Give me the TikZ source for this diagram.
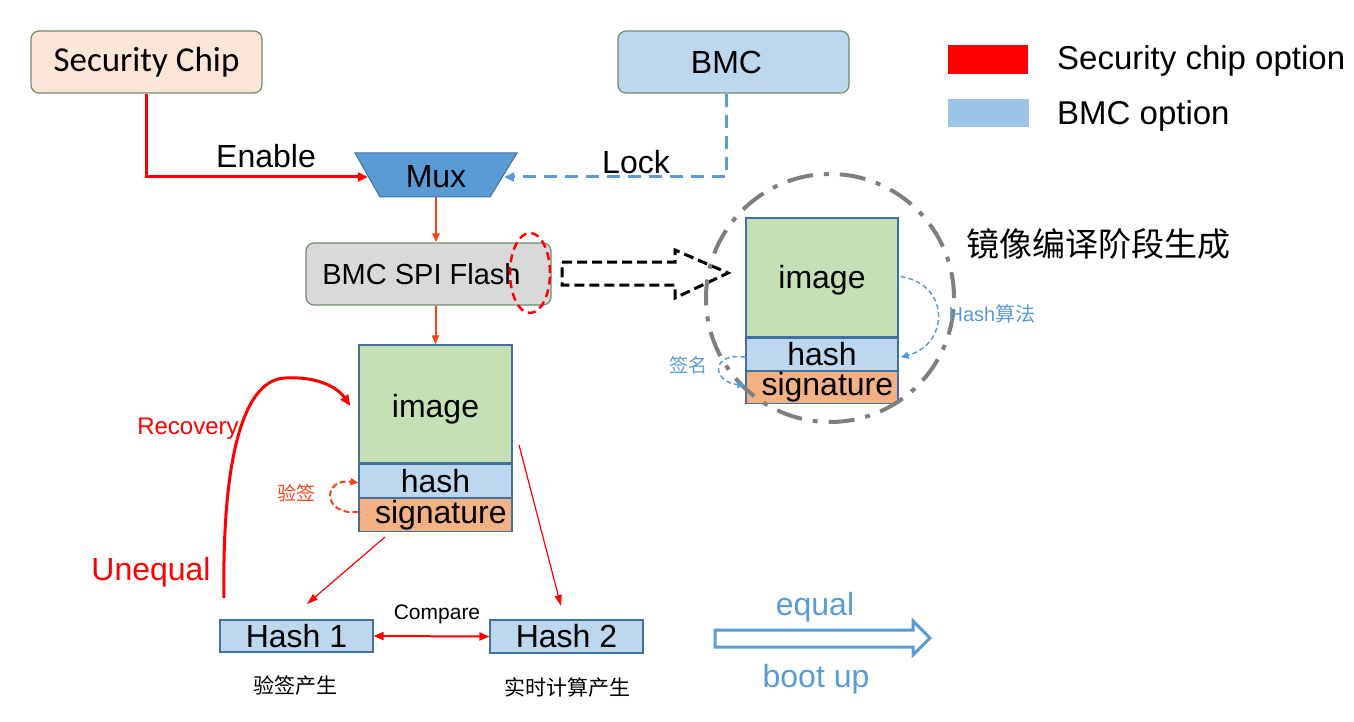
\documentclass[tikz,border=0pt]{standalone}
\usepackage{fontspec}
\setmainfont{Liberation Sans}
\newfontfamily\calibri{Carlito}
\newfontfamily\cjk{Noto Sans CJK SC}
\usetikzlibrary{arrows.meta,shapes.geometric}
\definecolor{chipfill}{HTML}{FBE5D6}
\definecolor{boxline}{HTML}{6F8A6F}
\definecolor{bmcfill}{HTML}{BDD7EE}
\definecolor{spifill}{HTML}{D9D9D9}
\definecolor{muxfill}{HTML}{5B9BD5}
\definecolor{muxline}{HTML}{41719C}
\definecolor{stkline}{HTML}{41719C}
\definecolor{imgfill}{HTML}{C5E0B4}
\definecolor{sigfill}{HTML}{F4B183}
\definecolor{bluel}{HTML}{5B9BD5}
\definecolor{legblue}{HTML}{9DC3E6}
\definecolor{orred}{HTML}{F5451B}
\definecolor{circgray}{HTML}{7F7F7F}
\tikzset{
  big/.style={font=\fontsize{32}{36}\selectfont},
  box/.style={draw=boxline, line width=1.2pt, rounded corners=8pt, inner sep=0pt, big},
  stk/.style={draw=stkline, line width=1.2pt, inner sep=0pt, big, minimum width=153},
  redline/.style={draw=red, line width=3pt, -{Triangle[length=10pt,width=9pt]}},
  oarrow/.style={draw=orred, line width=2pt, -{Triangle[length=9pt,width=7pt]}},
  thinred/.style={draw=red, line width=1.2pt, -{Triangle[length=11pt,width=7pt]}},
  bdash/.style={draw=bluel, line width=1.5pt, dash pattern=on 5pt off 3pt, -{Triangle[length=8pt,width=7pt]}},
  odash/.style={draw=orred, line width=2pt, dash pattern=on 6pt off 3pt, -{Triangle[length=8pt,width=7pt]}},
  smalltxt/.style={font=\fontsize{20}{24}\selectfont, inner sep=0pt},
}
\begin{document}
\begin{tikzpicture}[x=1pt,y=-1pt]
\useasboundingbox (0,0) rectangle (1354,722);

% top boxes
\node[box, fill=chipfill, minimum width=231, minimum height=62, font=\calibri\fontsize{35}{38}\selectfont] (chip) at (146.5,62) {Security Chip};
\node[box, fill=bmcfill, minimum width=231, minimum height=62] (bmc) at (733.5,62) {\hspace*{-14pt}BMC};

% legend
\node[fill=red, minimum width=80, minimum height=29, inner sep=0pt] (lgr) at (988,59.5) {};
\node[font=\fontsize{33}{36}\selectfont, anchor=west, inner sep=0pt] (lgrt) at (1057,61) {Security chip option};
\node[fill=legblue, minimum width=81, minimum height=28, inner sep=0pt] (lgb) at (988.5,113) {};
\node[font=\fontsize{33}{36}\selectfont, anchor=west, inner sep=0pt] (lgbt) at (1057,116) {BMC option};

% mux
\filldraw[fill=muxfill, draw=muxline, line width=1pt] (355,153) -- (517,153) -- (490,197) -- (380,197) -- cycle;
\node[big, minimum width=136, minimum height=44, inner sep=0pt] (mux) at (436,177) {Mux};

\draw[redline] (chip.south) |- (mux.west);
\node[big, inner sep=0pt] (enable) at (266,156) {Enable};
\draw[draw=bluel, line width=3pt, dash pattern=on 13pt off 8pt, -{Triangle[length=10pt,width=9pt]}] ([xshift=-7.5pt]bmc.south) |- (mux.east);
\node[big, inner sep=0pt] (lock) at (636,162) {Lock};

% SPI flash
\node[box, fill=spifill, minimum width=245, minimum height=62, font=\fontsize{29}{32}\selectfont] (spi) at (428.5,274) {\hspace*{-14pt}BMC SPI Flash};
\draw[oarrow] (mux.south |- 0,197) -- (mux.south |- spi.north);
\node[draw=red, ellipse, dash pattern=on 8pt off 5pt, line width=2.5pt, minimum width=40, minimum height=80, inner sep=0pt] (hl) at (530,273) {};

% hollow dashed arrow
\draw[line width=3pt, dash pattern=on 10pt off 5pt] (562,262) -- (675,262) -- (675,250) -- (728,273) -- (675,298) -- (675,285) -- (562,285) -- cycle;

% left stack
\node[stk, fill=imgfill, minimum height=118, text height=26pt, text depth=0pt] (limg) at (435.5,404) {image};
\node[stk, fill=bmcfill, minimum height=33, anchor=north] (lhash) at (limg.south) {hash};
\node[stk, fill=sigfill, minimum height=33, anchor=north] (lsig) at (lhash.south) {\,\,signature};
\draw[oarrow] (limg.north |- spi.south) -- (limg.north);

% right stack
\node[stk, fill=imgfill, minimum width=152, minimum height=119, text height=22pt, text depth=0pt] (rimg) at (822,277.5) {image};
\node[stk, fill=bmcfill, minimum width=152, minimum height=32, anchor=north] (rhash) at (rimg.south) {hash};
\node[stk, fill=sigfill, minimum width=152, minimum height=32, anchor=north] (rsig) at (rhash.south) {\,\,signature};

% dash-dot circle
\draw[draw=circgray, line width=4pt, dash pattern=on 26pt off 11pt on 5pt off 11pt] (830,298) circle[radius=124pt];
\node[font=\cjk\fontsize{33}{36}\selectfont, anchor=west, inner sep=0pt] (gen) at (966,244) {镜像编译阶段生成};

% blue curves
\draw[bdash] ([xshift=2pt,yshift=1pt]rimg.east) .. controls (952,285) and (948,345) .. ([xshift=2pt,yshift=-3pt]rhash.east);
\node[smalltxt, text=bluel] (halg) at (992,314) {Hash{\cjk 算法}};
\draw[bdash] ([yshift=-3pt]rhash.west) .. controls (710,352) and (712,382) .. ([yshift=2pt]rsig.west);
\node[smalltxt, text=bluel, font=\cjk\fontsize{19}{22}\selectfont] (qm) at (688,365) {签名};

% left orange curve
\draw[odash] ([yshift=3pt]lsig.west) .. controls (322,516) and (322,478) .. ([yshift=-2pt]lhash.west);
\node[smalltxt, text=orred, font=\cjk\fontsize{19}{22}\selectfont] (yq) at (296,493) {验签};

% hash boxes
\node[stk, fill=bmcfill, minimum height=32] (h1) at (296.5,636) {Hash 1};
\node[stk, fill=bmcfill, minimum height=33] (h2) at (566.5,636.5) {Hash 2};
\draw[draw=red, line width=2pt, {Triangle[length=10pt,width=8pt]}-{Triangle[length=10pt,width=8pt]}] (h1.east) -- (h2.west);
\node[font=\fontsize{21}{24}\selectfont, inner sep=0pt] (cmp) at (437,614) {Compare};
\node[font=\cjk\fontsize{21}{24}\selectfont, inner sep=0pt] (h1t) at (295,686) {验签产生};
\node[font=\cjk\fontsize{21}{24}\selectfont, inner sep=0pt] (h2t) at (567,688) {实时计算产生};

% thin red arrows
\coordinate (t1s) at (385,537);
\coordinate (t1e) at (307,604);
\coordinate (t2s) at (519,445);
\coordinate (t2e) at (561,606);
\draw[thinred] (t1s) -- (t1e);
\draw[thinred] (t2s) -- (t2e);

% recovery
\coordinate (recA) at (224,598);
\draw[draw=red, line width=3pt, -{Triangle[length=11pt,width=9pt]}] (recA) .. controls (222,470) and (240,380) .. (285,378) .. controls (318,376) and (338,388) .. ([xshift=-8pt,yshift=-2pt]limg.west);
\node[font=\fontsize{24}{28}\selectfont, text=red, inner sep=0pt] (rec) at (188,429) {Recovery};
\node[big, text=red, inner sep=0pt] (uneq) at (151,572) {Unequal};

% equal arrow
\draw[draw=bluel, line width=3pt, fill=white, line join=miter] (715,630) -- (913,630) -- (913,621) -- (930,638) -- (913,655) -- (913,647) -- (715,647) -- cycle;
\node[big, text=bluel, inner sep=0pt] (eq) at (815,607) {equal};
\node[big, text=bluel, inner sep=0pt] (boot) at (816,679) {boot up};
\end{tikzpicture}
\end{document}
